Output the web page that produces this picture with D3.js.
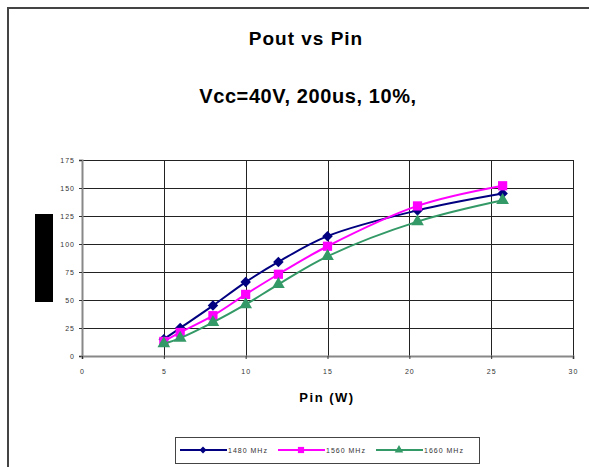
<!DOCTYPE html>
<html>
<head>
<meta charset="utf-8">
<title>Pout vs Pin</title>
<style>
  body { margin: 0; background: #fff; }
  svg { display: block; font-family: Arial, "Liberation Sans", sans-serif; }
  .grid line { stroke: #222; stroke-width: 1; shape-rendering: crispEdges; }
  .tick text { font-size: 7px; fill: #333; letter-spacing: 1px; }
</style>
</head>
<body>
<script src="https://d3js.org/d3.v7.min.js"></script>
<script>
// data
var pinW     = [5, 6, 8, 10, 12, 15, 20.5, 25.7];
var p1480    = [15, 25, 45, 66, 84, 107, 130, 145];
var p1560    = [13, 21, 36, 55, 73, 98, 134, 152];
var p1660    = [11, 16, 30, 46, 64, 89, 120, 139];
var seriesNames = ["1480 MHz", "1560 MHz", "1660 MHz"];
var xTicks = [0, 5, 10, 15, 20, 25, 30];
var yTicks = [0, 25, 50, 75, 100, 125, 150, 175];

var W = 589, H = 467;
var plot = {left: 82, right: 573, top: 160, bottom: 356};

var svg = d3.select("body").append("svg")
    .attr("width", W).attr("height", H);

// outer chart frame (runs off the right/bottom edge)
svg.append("rect")
    .attr("x", 8).attr("y", 8)
    .attr("width", W).attr("height", H)
    .attr("fill", "none").attr("stroke", "#444").attr("stroke-width", 2);

svg.append("text").attr("x", 306).attr("y", 45)
    .attr("text-anchor", "middle").style("font-size", "19px").style("font-weight", "bold")
    .style("letter-spacing", "1px")
    .text("Pout vs Pin");
svg.append("text").attr("x", 308).attr("y", 103)
    .attr("text-anchor", "middle").style("font-size", "20px").style("font-weight", "bold")
    .style("letter-spacing", "0.6px")
    .text("Vcc=40V, 200us, 10%,");

var x = d3.scaleLinear().domain([0, 30]).range([plot.left, plot.right]);
var y = d3.scaleLinear().domain([0, 175]).range([plot.bottom, plot.top]);

// grid
var grid = svg.append("g").attr("class", "grid");
grid.selectAll(".h").data(yTicks.slice(1)).enter().append("line")
    .attr("x1", plot.left).attr("x2", plot.right)
    .attr("y1", function(d){ return Math.round(y(d)) + 0.5; })
    .attr("y2", function(d){ return Math.round(y(d)) + 0.5; });
grid.selectAll(".v").data(xTicks.slice(1)).enter().append("line")
    .attr("y1", plot.top).attr("y2", plot.bottom)
    .attr("x1", function(d){ return Math.round(x(d)) + 0.5; })
    .attr("x2", function(d){ return Math.round(x(d)) + 0.5; });

// axes
var yAxis = svg.append("g")
    .attr("transform", "translate(" + plot.left + ",0)")
    .call(d3.axisLeft(y).tickValues(yTicks).tickSize(3).tickPadding(4));
var xAxis = svg.append("g")
    .attr("transform", "translate(0," + plot.bottom + ")")
    .call(d3.axisBottom(x).tickValues(xTicks).tickSize(3).tickPadding(10));
[yAxis, xAxis].forEach(function(a){
  a.select(".domain").attr("stroke", "#888").attr("stroke-width", 2);
  a.selectAll(".tick line").attr("stroke", "#333");
});

svg.append("text").attr("x", 327).attr("y", 402)
    .attr("text-anchor", "middle").style("font-size", "13px").style("font-weight", "bold")
    .style("letter-spacing", "1.5px")
    .text("Pin (W)");

// redacted y axis title block
svg.append("rect").attr("x", 35).attr("y", 214).attr("width", 18).attr("height", 88).attr("fill", "#000");

// diamond = square turned 45 degrees
var series = [
  {name: seriesNames[0], vals: p1480, color: "#000080", sym: d3.symbolSquare, rot: 45, size: 55},
  {name: seriesNames[1], vals: p1560, color: "#FF00FF", sym: d3.symbolSquare, rot: 0, size: 85},
  {name: seriesNames[2], vals: p1660, color: "#339966", sym: d3.symbolTriangle, rot: 0, size: 70}
];

var line = d3.line()
    .x(function(d){ return x(d[0]); })
    .y(function(d){ return y(d[1]); })
    .curve(d3.curveCatmullRom.alpha(0.5));

series.forEach(function(s){
  var pts = pinW.map(function(p, i){ return [p, s.vals[i]]; });
  svg.append("path").datum(pts)
      .attr("d", line).attr("fill", "none")
      .attr("stroke", s.color).attr("stroke-width", 2);
  svg.selectAll(null).data(pts).enter().append("path")
      .attr("transform", function(d){ return "translate(" + x(d[0]) + "," + y(d[1]) + ") rotate(" + s.rot + ")"; })
      .attr("d", d3.symbol().type(s.sym).size(s.size))
      .attr("fill", s.color);
});

// legend
var lg = svg.append("g");
lg.append("rect").attr("x", 175.5).attr("y", 437.5).attr("width", 304).attr("height", 26)
    .attr("fill", "#fff").attr("stroke", "#444").attr("stroke-width", 1);
series.forEach(function(s, i){
  var x0 = 180 + i * 98;
  lg.append("line").attr("x1", x0).attr("x2", x0 + 47).attr("y1", 450).attr("y2", 450)
      .attr("stroke", s.color).attr("stroke-width", 2);
  lg.append("path").attr("transform", "translate(" + (x0 + 23) + ",450) rotate(" + s.rot + ")")
      .attr("d", d3.symbol().type(s.sym).size(s.size * 0.45)).attr("fill", s.color);
  lg.append("text").attr("x", x0 + 48).attr("y", 452.5)
      .style("font-size", "7px").style("letter-spacing", "1px").attr("fill", "#333")
      .text(s.name);
});
</script>
</body>
</html>
